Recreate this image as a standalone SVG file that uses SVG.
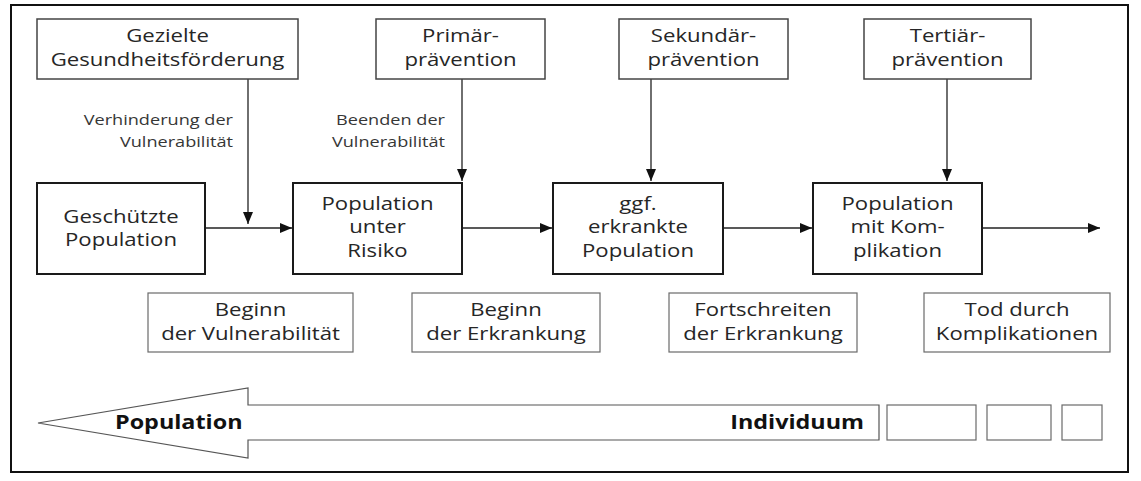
<svg xmlns="http://www.w3.org/2000/svg" width="1141" height="481" viewBox="0 0 1141 481">
  <defs>
    <marker id="ah" viewBox="0 0 12 10" refX="12" refY="5" markerWidth="12" markerHeight="10" markerUnits="userSpaceOnUse" orient="auto">
      <path d="M0,0 L12,5 L0,10 Z" fill="#111"/>
    </marker>
  </defs>
  <style>
    text { font-family: "Open Sans", "Noto Sans", "Liberation Sans", sans-serif; fill: #262626; }
    .t { font-size: 18px; text-anchor: middle; }
    .s { font-size: 15px; text-anchor: end; fill: #363636; }
    .b { font-size: 19px; font-weight: bold; fill: #111; }
    .top { fill: #fff; stroke: #444; stroke-width: 1.5; }
    .mid { fill: #fff; stroke: #1a1a1a; stroke-width: 2; }
    .bot { fill: #fff; stroke: #6a6a6a; stroke-width: 1.2; }
    .c { stroke: #222; stroke-width: 1.3; fill: none; }
  </style>
  <rect width="1141" height="481" fill="#fff"/>
  <rect id="frame" x="11" y="5" width="1117" height="467" fill="none" stroke="#111" stroke-width="2"/>

  <g id="connectors">
    <line class="c" x1="248" y1="79" x2="248" y2="224" marker-end="url(#ah)"/>
    <line class="c" x1="462" y1="79" x2="462" y2="181" marker-end="url(#ah)"/>
    <line class="c" x1="651" y1="79" x2="651" y2="181" marker-end="url(#ah)"/>
    <line class="c" x1="947" y1="79" x2="947" y2="181" marker-end="url(#ah)"/>
    <line class="c" x1="205" y1="228" x2="292" y2="228" marker-end="url(#ah)"/>
    <line class="c" x1="462" y1="228" x2="552" y2="228" marker-end="url(#ah)"/>
    <line class="c" x1="723" y1="228" x2="812" y2="228" marker-end="url(#ah)"/>
    <line class="c" x1="982" y1="228" x2="1100" y2="228" marker-end="url(#ah)"/>
  </g>

  <g id="gezielte">
    <rect class="top" x="37" y="19" width="261" height="60"/>
    <g transform="translate(167.5 0) scale(1.23 1)">
      <text class="t" x="0" y="42">Gezielte</text>
      <text class="t" x="0" y="66">Gesundheitsförderung</text>
    </g>
  </g>
  <g id="primaer">
    <rect class="top" x="376" y="19" width="169" height="60"/>
    <g transform="translate(460.5 0) scale(1.23 1)">
      <text class="t" x="0" y="42">Primär-</text>
      <text class="t" x="0" y="66">prävention</text>
    </g>
  </g>
  <g id="sekundaer">
    <rect class="top" x="619" y="19" width="169" height="60"/>
    <g transform="translate(703.5 0) scale(1.23 1)">
      <text class="t" x="0" y="42">Sekundär-</text>
      <text class="t" x="0" y="66">prävention</text>
    </g>
  </g>
  <g id="tertiaer">
    <rect class="top" x="864" y="19" width="167" height="60"/>
    <g transform="translate(947.5 0) scale(1.23 1)">
      <text class="t" x="0" y="42">Tertiär-</text>
      <text class="t" x="0" y="66">prävention</text>
    </g>
  </g>

  <g id="label-verhinderung" transform="translate(233 0) scale(1.21 1)">
    <text class="s" x="0" y="125">Verhinderung der</text>
    <text class="s" x="0" y="147">Vulnerabilität</text>
  </g>
  <g id="label-beenden" transform="translate(445 0) scale(1.21 1)">
    <text class="s" x="0" y="125">Beenden der</text>
    <text class="s" x="0" y="147">Vulnerabilität</text>
  </g>

  <g id="geschuetzt">
    <rect class="mid" x="37" y="183" width="168" height="91"/>
    <g transform="translate(121 0) scale(1.23 1)">
      <text class="t" x="0" y="223">Geschützte</text>
      <text class="t" x="0" y="246">Population</text>
    </g>
  </g>
  <g id="risiko">
    <rect class="mid" x="293" y="183" width="169" height="91"/>
    <g transform="translate(377.5 0) scale(1.23 1)">
      <text class="t" x="0" y="210">Population</text>
      <text class="t" x="0" y="233">unter</text>
      <text class="t" x="0" y="257">Risiko</text>
    </g>
  </g>
  <g id="erkrankt">
    <rect class="mid" x="553" y="183" width="170" height="91"/>
    <g transform="translate(638 0) scale(1.23 1)">
      <text class="t" x="0" y="210">ggf.</text>
      <text class="t" x="0" y="233">erkrankte</text>
      <text class="t" x="0" y="257">Population</text>
    </g>
  </g>
  <g id="komplikation">
    <rect class="mid" x="813" y="183" width="169" height="91"/>
    <g transform="translate(897.5 0) scale(1.23 1)">
      <text class="t" x="0" y="210">Population</text>
      <text class="t" x="0" y="233">mit Kom-</text>
      <text class="t" x="0" y="257">plikation</text>
    </g>
  </g>

  <g id="beginn-vuln">
    <rect class="bot" x="148" y="293" width="205" height="59"/>
    <g transform="translate(250.5 0) scale(1.23 1)">
      <text class="t" x="0" y="316">Beginn</text>
      <text class="t" x="0" y="340">der Vulnerabilität</text>
    </g>
  </g>
  <g id="beginn-erkr">
    <rect class="bot" x="412" y="293" width="188" height="59"/>
    <g transform="translate(506 0) scale(1.23 1)">
      <text class="t" x="0" y="316">Beginn</text>
      <text class="t" x="0" y="340">der Erkrankung</text>
    </g>
  </g>
  <g id="fortschreiten">
    <rect class="bot" x="669" y="293" width="188" height="59"/>
    <g transform="translate(763 0) scale(1.23 1)">
      <text class="t" x="0" y="316">Fortschreiten</text>
      <text class="t" x="0" y="340">der Erkrankung</text>
    </g>
  </g>
  <g id="tod">
    <rect class="bot" x="924" y="293" width="186" height="59"/>
    <g transform="translate(1017 0) scale(1.23 1)">
      <text class="t" x="0" y="316">Tod durch</text>
      <text class="t" x="0" y="340">Komplikationen</text>
    </g>
  </g>

  <g id="scale-arrow">
    <polygon points="38,423 248,388 248,405 879,405 879,440 248,440 248,458" fill="#fff" stroke="#555" stroke-width="1.2"/>
    <g transform="translate(115 0) scale(1.23 1)">
      <text class="b" x="0" y="429">Population</text>
    </g>
    <g transform="translate(864 0) scale(1.23 1)">
      <text class="b" x="0" y="429" text-anchor="end">Individuum</text>
    </g>
  </g>
  <g id="scale-boxes">
    <rect class="bot" x="887" y="405" width="89" height="35"/>
    <rect class="bot" x="987" y="405" width="64" height="35"/>
    <rect class="bot" x="1062" y="405" width="40" height="35"/>
  </g>
</svg>
